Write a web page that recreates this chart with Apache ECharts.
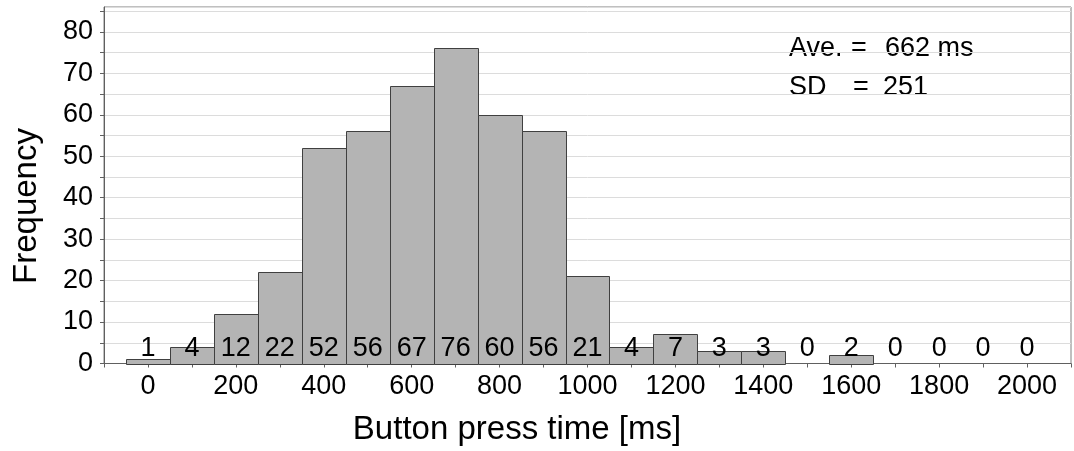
<!DOCTYPE html>
<html>
<head>
<meta charset="utf-8">
<script src="https://cdn.jsdelivr.net/npm/echarts@6/dist/echarts.min.js"></script>
<style>html,body{margin:0;padding:0;background:#fff}#c{width:1074px;height:451px}</style>
</head>
<body>
<div id="c"></div>
<script>
const binCenters = [0,100,200,300,400,500,600,700,800,900,1000,1100,1200,1300,1400,1500,1600,1700,1800,1900,2000];
const counts = [1,4,12,22,52,56,67,76,60,56,21,4,7,3,3,0,2,0,0,0,0];
const binWidth = 100;
const xTickLabels = [0,200,400,600,800,1000,1200,1400,1600,1800,2000];
const yTickLabels = [0,10,20,30,40,50,60,70,80];
const statsLines = [["Ave.", "=", "662 ms"], ["SD", "=", "251"]];
const xTitle = "Button press time [ms]";
const yTitle = "Frequency";

const FONT = "'Liberation Sans', Arial, sans-serif";
const chart = echarts.init(document.getElementById('c'), null, {renderer: 'canvas'});
const data = binCenters.map((c, i) => [c, counts[i]]);

const graphics = [
  {type: 'text', x: 27, y: 206, rotation: Math.PI / 2,
   style: {text: yTitle, font: '33px ' + FONT, fill: '#000', textAlign: 'center', textVerticalAlign: 'middle'}},
  {type: 'text', x: 517, y: 430,
   style: {text: xTitle, font: '33px ' + FONT, fill: '#000', textAlign: 'center', textVerticalAlign: 'middle'}}
];
const colX = [[789, 851, 885], [789, 853, 883]];
const rowY = [49, 88];
statsLines.forEach((row, r) => {
  row.forEach((t, k) => {
    graphics.push({type: 'text', x: colX[r][k], y: rowY[r],
      style: {text: t, font: '27px ' + FONT, fill: '#000', textAlign: 'left', textVerticalAlign: 'middle'}});
  });
});

chart.setOption({
  animation: false,
  grid: {left: 104, right: 1, top: 7, bottom: 87.5, show: true, borderColor: '#808080', borderWidth: 1, backgroundColor: '#fff'},
  xAxis: {
    type: 'value', min: -100, max: 2100, interval: 100,
    axisLine: {show: true, onZero: false, lineStyle: {color: '#606060', width: 1}},
    axisTick: {show: true, length: 4, lineStyle: {color: '#606060'}},
    splitLine: {show: false},
    axisLabel: {
      color: '#000', fontSize: 27, fontFamily: FONT, margin: 10,
      showMinLabel: true, showMaxLabel: true,
      formatter: v => xTickLabels.indexOf(Math.round(v)) >= 0 ? String(Math.round(v)) : ''
    }
  },
  yAxis: {
    type: 'value', min: 0, max: 86, interval: 5,
    axisLine: {show: true, onZero: false, lineStyle: {color: '#606060', width: 1}},
    axisTick: {show: true, length: 4, lineStyle: {color: '#606060'}},
    splitLine: {show: true, lineStyle: {color: '#dcdcdc', width: 1}},
    axisLabel: {
      color: '#000', fontSize: 27, fontFamily: FONT, margin: 11,
      showMaxLabel: false,
      formatter: v => yTickLabels.indexOf(Math.round(v)) >= 0 ? String(Math.round(v)) : ''
    }
  },
  graphic: graphics,
  series: [{
    type: 'custom',
    data: data,
    clip: false,
    renderItem: function (params, api) {
      const c = api.value(0), n = api.value(1);
      const p0 = api.coord([c - binWidth / 2, n]);
      const p1 = api.coord([c + binWidth / 2, 0]);
      const mid = api.coord([c, 0]);
      const children = [];
      if (n > 0) {
        children.push({type: 'rect',
          shape: {x: Math.round(p0[0]) + 0.5, y: Math.round(p0[1]) + 0.5, width: Math.round(p1[0]) - Math.round(p0[0]), height: Math.round(p1[1]) - Math.round(p0[1])},
          style: {fill: '#b4b4b4', stroke: '#404040', lineWidth: 1}});
      }
      children.push({type: 'text', x: mid[0], y: mid[1] - 15,
        style: {text: String(n), font: '27px ' + FONT, fill: '#000', textAlign: 'center', textVerticalAlign: 'middle'}});
      return {type: 'group', children: children};
    }
  }]
});
</script>
</body>
</html>
